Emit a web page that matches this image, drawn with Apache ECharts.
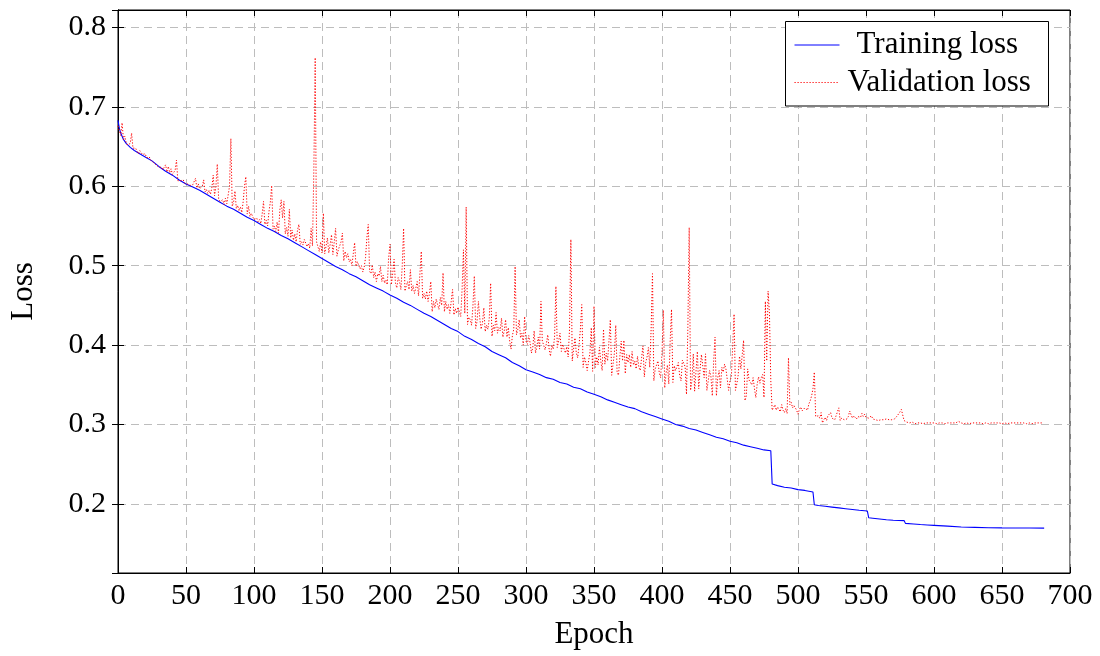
<!DOCTYPE html>
<html><head><meta charset="utf-8">
<script src="https://cdn.jsdelivr.net/npm/echarts@6/dist/echarts.min.js"></script>
<style>html,body{margin:0;padding:0;background:#fff}#c{width:1100px;height:656px}</style>
</head><body><div id="c"></div>
<script>
// Training loss: epoch positions and values
const trainEpochs = [0,1,2,4,6,9,12,15,20,25,30,35,40,45,50,55,60,65,70,75,80,85,90,95,100,105,110,115,120,125,130,135,140,145,150,155,160,165,170,175,180,185,190,195,200,205,210,215,220,225,230,235,240,245,250,255,260,265,270,275,280,285,290,295,300,305,310,315,320,325,330,335,340,345,350,355,360,365,370,375,380,385,390,395,400,405,410,415,420,425,430,435,440,445,450,455,460,465,470,475,480,481,485,490,495,500,505,511,512,515,520,525,530,535,540,545,551,552,555,560,565,570,578,579,585,590,595,600,610,620,630,640,650,660,670,681];
const trainLoss = [.683,.673,.667,.659,.654,.649,.645,.642,.637,.632,.625,.619,.614,.608,.603,.599,.595,.590,.585,.580,.575,.571,.566,.561,.557,.552,.547,.543,.538,.534,.529,.524,.519,.514,.509,.504,.499,.495,.490,.486,.481,.476,.472,.468,.463,.459,.454,.450,.445,.440,.436,.431,.426,.421,.417,.411,.407,.402,.398,.392,.388,.384,.378,.374,.369,.366,.363,.359,.357,.353,.351,.347,.345,.341,.338,.335,.331,.328,.325,.322,.320,.316,.313,.310,.307,.304,.300,.298,.295,.293,.290,.287,.284,.282,.279,.277,.274,.272,.270,.268,.267,.225,.223,.221,.220,.218,.217,.215,.199,.198,.197,.196,.195,.194,.193,.192,.191,.1825,.182,.181,.180,.1795,.179,.1755,.1748,.174,.1735,.173,.172,.171,.1705,.170,.1698,.1697,.1696,.1695];
// Validation loss: one value per epoch, starting at epoch 0
const valLoss = [
.676,.670,.664,.680,.659,.663,.655,.652,.650,.654,
.667,.648,.646,.648,.644,.641,.645,.644,.640,.638,
.641,.636,.634,.637,.633,.631,.630,.628,.627,.626,
.624,.623,.624,.621,.624,.627,.618,.625,.617,.622,
.615,.614,.620,.633,.607,.609,.607,.606,.608,.604,
.605,.603,.604,.601,.600,.602,.600,.610,.598,.603,
.597,.596,.600,.608,.593,.596,.591,.595,.590,.598,
.614,.588,.600,.628,.584,.581,.580,.583,.577,.585,
.578,.577,.600,.660,.575,.580,.594,.572,.576,.569,
.574,.567,.580,.600,.612,.565,.575,.562,.566,.562,
.558,.556,.560,.555,.558,.553,.565,.581,.552,.557,
.550,.568,.580,.601,.546,.550,.543,.555,.541,.570,
.583,.560,.581,.540,.548,.537,.571,.535,.545,.532,
.540,.530,.545,.552,.527,.530,.526,.533,.535,.524,
.528,.522,.547,.525,.620,.762,.530,.524,.518,.530,
.516,.566,.515,.525,.535,.516,.527,.539,.514,.530,
.547,.512,.520,.522,.530,.541,.506,.518,.510,.515,
.505,.508,.500,.515,.529,.499,.505,.503,.496,.500,
.492,.498,.510,.535,.552,.493,.490,.501,.485,.492,
.480,.490,.487,.499,.480,.488,.478,.482,.476,.510,
.527,.476,.490,.508,.478,.472,.485,.480,.470,.500,
.547,.468,.475,.480,.470,.495,.468,.475,.465,.472,
.480,.462,.490,.518,.459,.465,.458,.468,.455,.465,
.480,.442,.455,.447,.458,.451,.445,.460,.450,.491,
.442,.455,.445,.451,.440,.455,.470,.438,.446,.440,
.448,.442,.436,.470,.520,.440,.574,.426,.435,.432,
.425,.450,.487,.421,.430,.455,.434,.420,.428,.447,
.417,.425,.420,.434,.478,.411,.425,.418,.441,.415,
.422,.418,.434,.410,.418,.432,.410,.422,.405,.395,
.412,.420,.499,.413,.420,.432,.409,.415,.400,.436,
.405,.401,.412,.403,.390,.397,.418,.390,.398,.410,
.395,.455,.405,.400,.394,.402,.413,.395,.386,.400,
.395,.410,.474,.397,.405,.415,.392,.401,.395,.390,
.398,.385,.420,.533,.380,.395,.409,.390,.384,.400,
.420,.451,.372,.385,.378,.368,.380,.390,.422,.367,
.449,.372,.385,.375,.397,.380,.368,.420,.376,.390,
.380,.405,.432,.362,.376,.390,.425,.365,.362,.385,
.405,.380,.406,.364,.388,.378,.388,.372,.392,.375,
.380,.370,.386,.372,.368,.384,.399,.360,.378,.385,
.397,.372,.420,.490,.355,.370,.372,.380,.365,.359,
.390,.444,.346,.365,.375,.351,.405,.445,.353,.374,
.368,.370,.378,.362,.355,.381,.380,.373,.338,.420,
.548,.343,.355,.389,.342,.341,.392,.345,.370,.388,
.390,.359,.389,.343,.355,.368,.360,.336,.380,.410,
.336,.359,.368,.346,.372,.366,.376,.370,.368,.343,
.355,.360,.400,.439,.343,.351,.362,.386,.370,.388,
.406,.330,.336,.370,.356,.357,.350,.359,.345,.334,
.351,.360,.352,.359,.363,.334,.455,.380,.468,.440,
.355,.318,.321,.325,.318,.322,.321,.316,.325,.318,
.315,.320,.314,.384,.325,.328,.321,.324,.325,.318,
.313,.319,.322,.317,.319,.321,.323,.318,.326,.330,
.336,.345,.366,.310,.309,.311,.308,.315,.302,.306,
.309,.305,.311,.309,.315,.308,.309,.306,.311,.309,
.321,.305,.308,.309,.306,.307,.307,.310,.317,.319,
.308,.311,.309,.307,.310,.311,.309,.314,.310,.313,
.309,.311,.308,.307,.311,.307,.309,.306,.307,.305,
.306,.306,.305,.306,.305,.307,.307,.306,.306,.306,
.307,.307,.308,.311,.313,.316,.319,.321,.305,.304,
.303,.303,.302,.302,.303,.302,.301,.302,.302,.303,
.302,.302,.301,.302,.302,.303,.302,.301,.302,.302,
.302,.302,.301,.302,.302,.301,.302,.302,.301,.302,
.302,.301,.302,.302,.302,.301,.302,.303,.304,.304,
.302,.302,.301,.302,.302,.302,.301,.302,.302,.301,
.302,.302,.302,.301,.302,.302,.301,.302,.302,.302,
.301,.302,.302,.301,.302,.302,.302,.301,.302,.302,
.301,.302,.302,.302,.301,.302,.302,.301,.302,.302,
.302,.301,.302,.302,.302,.301,.302,.302,.301,.302,
.302,.302,.301,.302,.302,.301,.302,.302,.302,.301,
.302
];
const seriesNames = ['Training loss', 'Validation loss'];
const xMin = 0, xMax = 700, xStep = 50;
const yMin = 0.113, yMax = 0.822;
const axisTitles = {x: 'Epoch', y: 'Loss'};

const FONT = 'Liberation Serif';
const trainData = trainEpochs.map((e, i) => [e, trainLoss[i]]);
const valData = valLoss.map((v, i) => [i, v]);

const gridLine = {show: true, lineStyle: {color: '#bdbdbd', width: 1, type: [8, 5]}};
const tick = {show: true, inside: true, length: 6, lineStyle: {color: '#000', width: 1}};
const axLine = {show: true, lineStyle: {color: '#000', width: 1}};
const labelStyle = {fontFamily: FONT, fontSize: 30, color: '#000'};

const chart = echarts.init(document.getElementById('c'), null, {renderer: 'canvas'});
chart.setOption({
  animation: false,
  backgroundColor: '#fff',
  grid: {left: 115, top: 10, width: 955, height: 563, show: true, borderColor: '#000', borderWidth: 1, containLabel: false},
  xAxis: [
    {type: 'value', min: xMin, max: xMax, interval: xStep, position: 'bottom',
     name: axisTitles.x, nameLocation: 'middle', nameGap: 46,
     nameTextStyle: {fontFamily: FONT, fontSize: 31, color: '#000'},
     axisLine: axLine, axisTick: tick, splitLine: gridLine,
     axisLabel: Object.assign({margin: 8}, labelStyle)},
    {type: 'value', min: xMin, max: xMax, interval: xStep, position: 'top',
     axisLine: axLine, axisTick: tick, splitLine: {show: false}, axisLabel: {show: false}}
  ],
  yAxis: [
    {type: 'value', min: yMin, max: yMax, position: 'left',
     name: axisTitles.y, nameLocation: 'middle', nameGap: 79, nameRotate: 90,
     nameTextStyle: {fontFamily: FONT, fontSize: 31, color: '#000'},
     axisLine: axLine, axisTick: tick, splitLine: gridLine,
     axisLabel: Object.assign({margin: 12, showMinLabel: false, showMaxLabel: false,
       formatter: v => v.toFixed(1)}, labelStyle)},
    {type: 'value', min: yMin, max: yMax, position: 'right',
     axisLine: axLine, axisTick: tick, splitLine: {show: false}, axisLabel: {show: false}}
  ],
  graphic: [{type: 'rect', z: 3, shape: {x: 785.5, y: 21.5, width: 263, height: 84.5},
    style: {fill: '#fff', stroke: '#000', lineWidth: 1}}],
  legend: [
    {data: [seriesNames[0]], left: 794, top: 27, padding: 0, itemWidth: 45, itemHeight: 14,
     selectedMode: false, z: 5, itemStyle: {opacity: 0}, lineStyle: {width: 1},
     textStyle: {fontFamily: FONT, fontSize: 31, color: '#000', lineHeight: 36, padding: [0, 0, 0, 12]}},
    {data: [seriesNames[1]], left: 794, top: 64.5, padding: 0, itemWidth: 45, itemHeight: 14,
     selectedMode: false, z: 5, itemStyle: {opacity: 0}, lineStyle: {width: 1},
     textStyle: {fontFamily: FONT, fontSize: 31, color: '#000', lineHeight: 36, padding: [0, 0, 0, 3]}}
  ],
  series: [
    {name: seriesNames[0], type: 'line', data: trainData, showSymbol: false, symbol: 'none',
     color: '#0000ff', lineStyle: {color: '#0000ff', width: 1.1}, z: 2},
    {name: seriesNames[1], type: 'line', data: valData, showSymbol: false, symbol: 'none',
     color: '#ff0000', lineStyle: {color: '#ff0000', width: 1, type: [1.2, 1.8]}, z: 2}
  ]
});
</script></body></html>
